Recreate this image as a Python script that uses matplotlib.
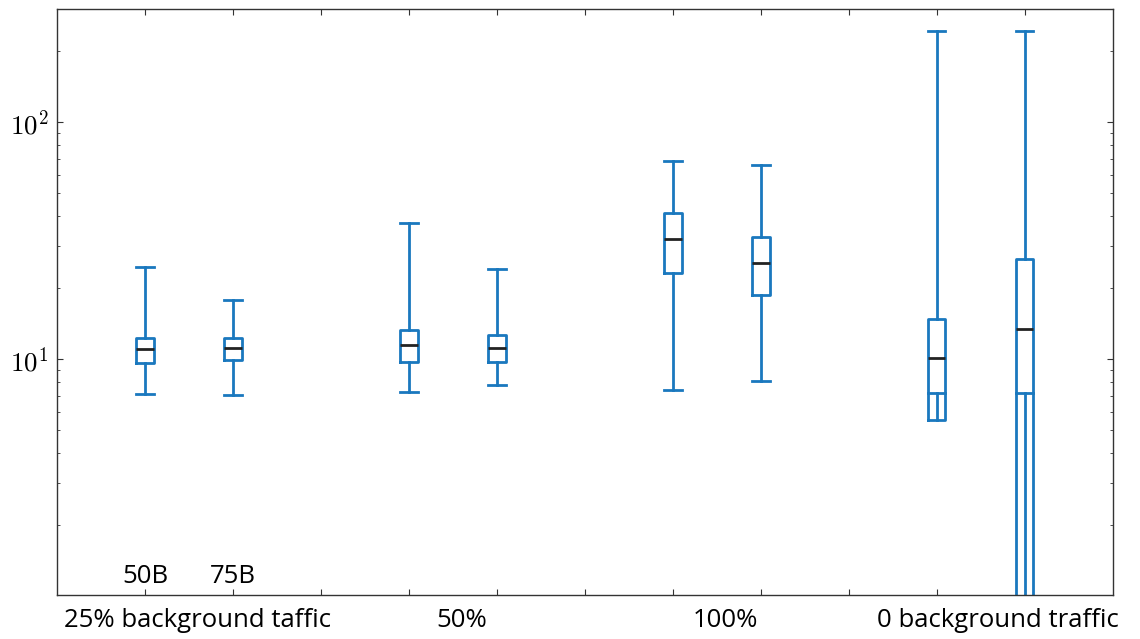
import matplotlib.pyplot as plt
import matplotlib.transforms as mtransforms
from matplotlib.ticker import LogLocator, NullFormatter

# --- data ---
groups = ['25% background taffic', '50%', '100%', '0 background traffic']
sizes = ['50B', '75B']
positions = [1, 2, 4, 5, 7, 8, 10, 11]

whis_hi = [24.4, 17.7, 37.5, 24.0, 68.4, 65.9, 242.0, 242.0]
q3 = [12.3, 12.3, 13.3, 12.6, 41.3, 32.7, 14.7, 26.4]
med = [11.0, 11.1, 11.5, 11.1, 32.1, 25.4, 10.1, 13.4]
q1 = [9.6, 9.9, 9.7, 9.7, 23.1, 18.6, 5.53, 0.5]
whis_lo = [7.1, 7.05, 7.26, 7.77, 7.4, 8.07, 7.15, 7.15]

# --- style ---
matlab_blue = '#1a78be'
box_lw = 2.0
box_w = 0.2
label_font = 'Open Sans'
label_size = 18.5
group_x = [1.6, 4.6, 7.6, 10.7]

plt.rcParams['mathtext.fontset'] = 'cm'

fig = plt.figure(figsize=(11.4, 6.39), dpi=100)
ax = fig.add_axes([0.05, 0.069, 0.926, 0.917])

stats = []
for k in range(len(positions)):
    stats.append(dict(whislo=whis_lo[k], q1=q1[k], med=med[k], q3=q3[k], whishi=whis_hi[k], fliers=[]))

ax.bxp(stats, positions=positions, widths=box_w, capwidths=box_w, showfliers=False,
       boxprops=dict(color=matlab_blue, linewidth=box_lw),
       whiskerprops=dict(color=matlab_blue, linewidth=box_lw),
       capprops=dict(color=matlab_blue, linewidth=box_lw),
       medianprops=dict(color='#222222', linewidth=box_lw))

ax.set_yscale('log')
ax.set_xlim(0, 12)
ax.set_ylim(1.01, 300)

ax.set_xticks(range(1, 12))
ax.set_xticklabels([])
ax.set_yticks([10, 100])
ax.set_yticklabels([r'$10^{1}$', r'$10^{2}$'], fontsize=19.5)
ax.yaxis.set_minor_locator(LogLocator(base=10, subs=range(2, 10)))
ax.yaxis.set_minor_formatter(NullFormatter())

ax.tick_params(axis='both', which='major', direction='in', top=True, right=True,
               length=4, width=0.8, color='#333333')
ax.tick_params(axis='y', which='minor', direction='in', right=True, length=2, width=0.6, color='#333333')
ax.tick_params(axis='y', which='major', pad=6)
for sp in ax.spines.values():
    sp.set_linewidth(1.0)
    sp.set_color('#333333')

# size labels inside the axes, group labels under it
trans = mtransforms.blended_transform_factory(ax.transData, ax.transAxes)
for xp, s in zip(positions[:2], sizes):
    ax.text(xp, 0.031, s, transform=trans, ha='center', va='center', fontsize=label_size, family=label_font)
for xp, g in zip(group_x, groups):
    ax.text(xp, -0.043, g, transform=trans, ha='center', va='center', fontsize=label_size, family=label_font)

plt.savefig('out.png', dpi=100)
